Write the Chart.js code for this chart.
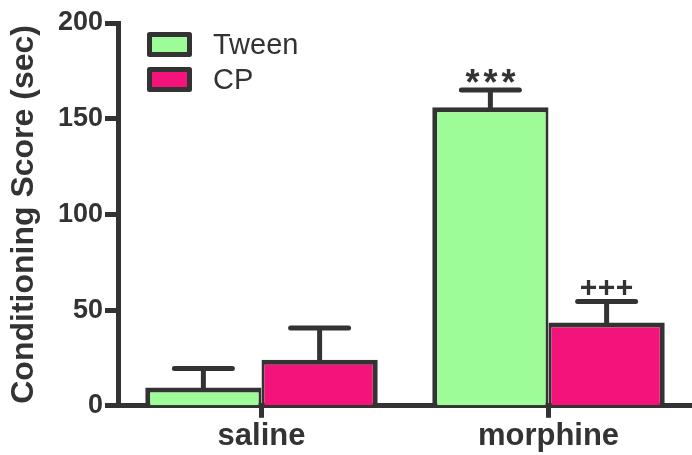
<!DOCTYPE html>
<html><head><meta charset="utf-8">
<script src="https://cdn.jsdelivr.net/npm/chart.js@4/dist/chart.umd.min.js"></script>
<style>html,body{margin:0;padding:0;background:#fff;overflow:hidden}</style>
</head><body><canvas id="c" width="692" height="455"></canvas>
<script>
const categories = ['saline', 'morphine'];
const seriesNames = ['Tween', 'CP'];
const tweenMean = [9.5, 156];
const tweenSEM = [10, 9];
const cpMean = [24, 43.5];
const cpSEM = [16.6, 11];
const tweenSig = ['', '***'];
const cpSig = ['', '+++'];
const yTicks = [0, 50, 100, 150, 200];
const yTitle = 'Conditioning Score (sec)';

const INK = '#333333';
const FAM = "'Liberation Sans', Arial, sans-serif";
Chart.defaults.font.family = FAM;

const errPlugin = {
  id: 'errBars',
  afterDatasetsDraw(chart) {
    const ctx = chart.ctx, ys = chart.scales.y;
    chart.data.datasets.forEach((ds, i) => {
      const meta = chart.getDatasetMeta(i);
      meta.data.forEach((bar, j) => {
        const top = ys.getPixelForValue(ds.data[j]);
        const capY = ys.getPixelForValue(ds.data[j] + ds.errors[j]);
        ctx.save();
        ctx.strokeStyle = INK; ctx.lineWidth = 5; ctx.lineCap = 'round';
        ctx.beginPath();
        ctx.moveTo(bar.x, top); ctx.lineTo(bar.x, capY);
        ctx.moveTo(bar.x - 29, capY); ctx.lineTo(bar.x + 29, capY);
        ctx.stroke();
        const s = ds.sig[j];
        if (s) {
          const star = s[0] === '*';
          ctx.fillStyle = INK; ctx.font = 'bold ' + (star ? 36 : 30) + 'px ' + FAM;
          ctx.textAlign = 'center'; ctx.textBaseline = 'alphabetic';
          const n = s.length;
          for (let k = 0; k < n; k++) {
            ctx.fillText(s[k], bar.x + (k - (n - 1) / 2) * 18, capY + (star ? 5 : -4));
          }
        }
        ctx.restore();
      });
    });
  }
};

const legendPlugin = {
  id: 'boxLegend',
  afterDraw(chart) {
    const ctx = chart.ctx;
    chart.data.datasets.forEach((ds, i) => {
      const x = 149.5, y = 34.5 + i * 35, w = 40, h = 20;
      ctx.save();
      ctx.fillStyle = ds.backgroundColor; ctx.strokeStyle = INK;
      ctx.lineWidth = 5; ctx.lineJoin = 'round';
      ctx.fillRect(x, y, w, h); ctx.strokeRect(x, y, w, h);
      ctx.fillStyle = INK; ctx.font = '29px ' + FAM;
      ctx.textBaseline = 'middle'; ctx.textAlign = 'left';
      ctx.fillText(ds.label, 213, y + h / 2 + 1);
      ctx.restore();
    });
  }
};

new Chart(document.getElementById('c'), {
  type: 'bar',
  data: {
    labels: categories,
    datasets: [
      { label: seriesNames[0], data: tweenMean, errors: tweenSEM, sig: tweenSig,
        backgroundColor: '#9efc98', borderColor: INK,
        borderWidth: {top: 5, left: 5, right: 3, bottom: 0}, borderSkipped: false },
      { label: seriesNames[1], data: cpMean, errors: cpSEM, sig: cpSig,
        backgroundColor: '#f3137b', borderColor: INK,
        borderWidth: {top: 5, left: 3, right: 5, bottom: 0}, borderSkipped: false }
    ]
  },
  options: {
    responsive: false, animation: false,
    barPercentage: 1, categoryPercentage: 0.81,
    layout: { padding: { top: 23, right: 0, left: 0, bottom: 0 } },
    plugins: { legend: { display: false }, tooltip: { enabled: false } },
    scales: {
      x: {
        z: 1,
        grid: { display: true, drawOnChartArea: false, offset: false, tickLength: 12, tickWidth: 5, tickColor: INK },
        border: { display: true, width: 5, color: INK },
        ticks: { color: INK, font: { weight: 'bold', size: 31 }, padding: 0 }
      },
      y: {
        z: 1, min: 0, max: 200,
        afterBuildTicks: s => { s.ticks = yTicks.map(v => ({ value: v })); },
        afterFit: s => { s.width = 118; },
        grid: { drawOnChartArea: false, tickLength: 13, tickWidth: 5, tickColor: INK },
        border: { display: true, width: 5, color: INK },
        ticks: { color: INK, font: { weight: 'bold', size: 27 }, padding: 2 },
        title: { display: true, text: yTitle, color: INK, font: { weight: 'bold', size: 32 }, padding: { top: 5, bottom: 0 } }
      }
    }
  },
  plugins: [errPlugin, legendPlugin]
});
</script>
</body></html>
